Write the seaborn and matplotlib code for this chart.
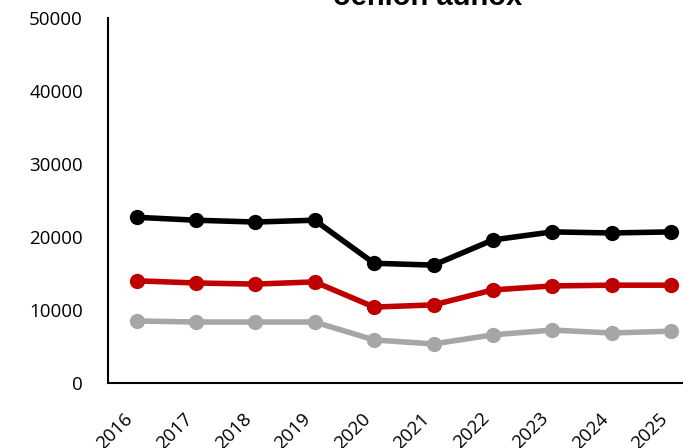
import pandas as pd
import matplotlib
matplotlib.use("Agg")
import matplotlib.pyplot as plt
import seaborn as sns

years = ["2016", "2017", "2018", "2019", "2020", "2021", "2022", "2023", "2024", "2025"]
total = [22700, 22300, 22050, 22300, 16400, 16150, 19600, 20700, 20550, 20700]
middle = [14000, 13700, 13550, 13850, 10400, 10700, 12750, 13300, 13400, 13400]
lower = [8500, 8350, 8350, 8350, 5900, 5350, 6600, 7250, 6850, 7100]
series_names = ["total", "middle", "lower"]
title_text = "oenion adnox"


def main():
    sns.set_style("white")
    plt.rcParams["font.family"] = ["Open Sans", "DejaVu Sans"]

    df = pd.DataFrame({
        "year": years * 3,
        "value": total + middle + lower,
        "series": [s for s in series_names for _ in years],
    })

    fig = plt.figure(figsize=(6.83, 4.48), dpi=100)
    ax = fig.add_axes([108 / 683, 65 / 448, 1 - 108 / 683, 365 / 448])

    palette = {"total": "#000000", "middle": "#c00000", "lower": "#a6a6a6"}
    sns.lineplot(data=df, x="year", y="value", hue="series", palette=palette,
                 marker="o", markersize=11, markeredgewidth=0, linewidth=4,
                 legend=False, ax=ax, sort=False)

    ax.set_ylim(0, 50000)
    ax.set_xlim(-0.48, 9.2)
    ax.set_yticks(range(0, 50001, 10000))
    ax.set_xlabel("")
    ax.set_ylabel("")
    ax.tick_params(axis="y", length=0, pad=18, labelsize=13.5, labelcolor="black")
    ax.tick_params(axis="x", length=0, pad=19, labelsize=13.5, labelcolor="black")
    for lab in ax.get_xticklabels():
        lab.set_rotation(45)
        lab.set_ha("right")
        lab.set_va("top")

    sns.despine(ax=ax, top=True, right=True)
    for side in ["left", "bottom"]:
        ax.spines[side].set_color("black")
        ax.spines[side].set_linewidth(1.5)

    fig.text(428 / 683, 1 - 5 / 448, title_text, ha="center", va="baseline",
             fontsize=21, fontweight="bold", color="black",
             family=["Liberation Sans", "DejaVu Sans"])

    fig.savefig("out.png", dpi=100)


if __name__ == "__main__":
    main()
